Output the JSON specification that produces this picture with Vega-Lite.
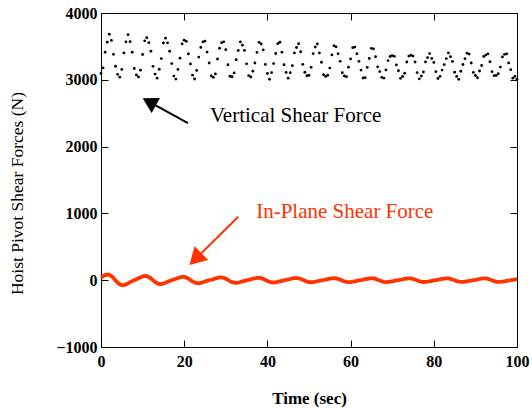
{
"$schema": "https://vega.github.io/schema/vega-lite/v6.json",
"width": 416, "height": 334,
"autosize": "none",
"padding": {"left": 101, "top": 13, "right": 15, "bottom": 62},
"background": "white",
"config": {
  "view": {"stroke": "black", "strokeWidth": 1},
  "axis": {"grid": false, "domainColor": "black", "tickColor": "black", "labelColor": "black", "titleColor": "black",
    "labelFont": "Liberation Serif", "labelFontWeight": "bold", "labelFontSize": 16,
    "titleFont": "Liberation Serif", "titleFontSize": 16, "tickSize": -7, "tickWidth": 1}
},
"datasets": {
"vert": [
{"t":0,"v":3095},{"t":0.5,"v":3179},{"t":1,"v":3412},{"t":1.5,"v":3563},{"t":2,"v":3682},{"t":2.5,"v":3589},{"t":3,"v":3381},{"t":3.5,"v":3203},{"t":4,"v":3081},{"t":4.5,"v":3039},
{"t":5,"v":3155},{"t":5.5,"v":3402},{"t":6,"v":3568},{"t":6.5,"v":3676},{"t":7,"v":3571},{"t":7.5,"v":3413},{"t":8,"v":3169},{"t":8.5,"v":3073},{"t":9,"v":3043},{"t":9.5,"v":3144},
{"t":10,"v":3379},{"t":10.5,"v":3583},{"t":11,"v":3629},{"t":11.5,"v":3556},{"t":12,"v":3427},{"t":12.5,"v":3201},{"t":13,"v":3085},{"t":13.5,"v":3024},{"t":14,"v":3158},{"t":14.5,"v":3318},
{"t":15,"v":3551},{"t":15.5,"v":3623},{"t":16,"v":3554},{"t":16.5,"v":3427},{"t":17,"v":3243},{"t":17.5,"v":3056},{"t":18,"v":3011},{"t":18.5,"v":3156},{"t":19,"v":3324},{"t":19.5,"v":3538},
{"t":20,"v":3593},{"t":20.5,"v":3576},{"t":21,"v":3388},{"t":21.5,"v":3238},{"t":22,"v":3069},{"t":22.5,"v":3012},{"t":23,"v":3141},{"t":23.5,"v":3340},{"t":24,"v":3485},{"t":24.5,"v":3568},
{"t":25,"v":3579},{"t":25.5,"v":3415},{"t":26,"v":3252},{"t":26.5,"v":3059},{"t":27,"v":3037},{"t":27.5,"v":3088},{"t":28,"v":3311},{"t":28.5,"v":3474},{"t":29,"v":3556},{"t":29.5,"v":3569},
{"t":30,"v":3451},{"t":30.5,"v":3225},{"t":31,"v":3055},{"t":31.5,"v":3046},{"t":32,"v":3103},{"t":32.5,"v":3300},{"t":33,"v":3439},{"t":33.5,"v":3567},{"t":34,"v":3519},{"t":34.5,"v":3440},
{"t":35,"v":3239},{"t":35.5,"v":3063},{"t":36,"v":3042},{"t":36.5,"v":3129},{"t":37,"v":3251},{"t":37.5,"v":3410},{"t":38,"v":3561},{"t":38.5,"v":3536},{"t":39,"v":3447},{"t":39.5,"v":3230},
{"t":40,"v":3096},{"t":40.5,"v":3008},{"t":41,"v":3108},{"t":41.5,"v":3243},{"t":42,"v":3394},{"t":42.5,"v":3542},{"t":43,"v":3562},{"t":43.5,"v":3413},{"t":44,"v":3225},{"t":44.5,"v":3111},
{"t":45,"v":3025},{"t":45.5,"v":3107},{"t":46,"v":3212},{"t":46.5,"v":3402},{"t":47,"v":3483},{"t":47.5,"v":3540},{"t":48,"v":3420},{"t":48.5,"v":3232},{"t":49,"v":3113},{"t":49.5,"v":3061},
{"t":50,"v":3067},{"t":50.5,"v":3187},{"t":51,"v":3393},{"t":51.5,"v":3491},{"t":52,"v":3537},{"t":52.5,"v":3403},{"t":53,"v":3263},{"t":53.5,"v":3076},{"t":54,"v":3050},{"t":54.5,"v":3068},
{"t":55,"v":3176},{"t":55.5,"v":3372},{"t":56,"v":3510},{"t":56.5,"v":3493},{"t":57,"v":3390},{"t":57.5,"v":3277},{"t":58,"v":3106},{"t":58.5,"v":3058},{"t":59,"v":3047},{"t":59.5,"v":3189},
{"t":60,"v":3312},{"t":60.5,"v":3481},{"t":61,"v":3490},{"t":61.5,"v":3390},{"t":62,"v":3277},{"t":62.5,"v":3146},{"t":63,"v":3027},{"t":63.5,"v":3032},{"t":64,"v":3187},{"t":64.5,"v":3320},
{"t":65,"v":3471},{"t":65.5,"v":3463},{"t":66,"v":3345},{"t":66.5,"v":3194},{"t":67,"v":3123},{"t":67.5,"v":3036},{"t":68,"v":3026},{"t":68.5,"v":3148},{"t":69,"v":3288},{"t":69.5,"v":3349},
{"t":70,"v":3363},{"t":70.5,"v":3351},{"t":71,"v":3223},{"t":71.5,"v":3135},{"t":72,"v":3022},{"t":72.5,"v":3050},{"t":73,"v":3098},{"t":73.5,"v":3267},{"t":74,"v":3355},{"t":74.5,"v":3368},
{"t":75,"v":3355},{"t":75.5,"v":3266},{"t":76,"v":3108},{"t":76.5,"v":3015},{"t":77,"v":3057},{"t":77.5,"v":3117},{"t":78,"v":3268},{"t":78.5,"v":3333},{"t":79,"v":3393},{"t":79.5,"v":3319},
{"t":80,"v":3260},{"t":80.5,"v":3122},{"t":81,"v":3020},{"t":81.5,"v":3052},{"t":82,"v":3146},{"t":82.5,"v":3228},{"t":83,"v":3318},{"t":83.5,"v":3403},{"t":84,"v":3345},{"t":84.5,"v":3274},
{"t":85,"v":3113},{"t":85.5,"v":3050},{"t":86,"v":3007},{"t":86.5,"v":3128},{"t":87,"v":3229},{"t":87.5,"v":3316},{"t":88,"v":3399},{"t":88.5,"v":3385},{"t":89,"v":3251},{"t":89.5,"v":3110},
{"t":90,"v":3064},{"t":90.5,"v":3031},{"t":91,"v":3132},{"t":91.5,"v":3214},{"t":92,"v":3349},{"t":92.5,"v":3370},{"t":93,"v":3389},{"t":93.5,"v":3270},{"t":94,"v":3122},{"t":94.5,"v":3063},
{"t":95,"v":3064},{"t":95.5,"v":3090},{"t":96,"v":3190},{"t":96.5,"v":3343},{"t":97,"v":3381},{"t":97.5,"v":3388},{"t":98,"v":3253},{"t":98.5,"v":3152},{"t":99,"v":3024},{"t":99.5,"v":3050},
{"t":100,"v":3010}
],
"inplane": [
{"t":0,"v":40},{"t":0.5,"v":60},{"t":1,"v":77},{"t":1.5,"v":85},{"t":2,"v":81},{"t":2.5,"v":63},{"t":3,"v":33},{"t":3.5,"v":-3},{"t":4,"v":-37},{"t":4.5,"v":-62},
{"t":5,"v":-75},{"t":5.5,"v":-74},{"t":6,"v":-63},{"t":6.5,"v":-47},{"t":7,"v":-29},{"t":7.5,"v":-14},{"t":8,"v":0},{"t":8.5,"v":14},{"t":9,"v":28},{"t":9.5,"v":43},
{"t":10,"v":56},{"t":10.5,"v":64},{"t":11,"v":62},{"t":11.5,"v":50},{"t":12,"v":28},{"t":12.5,"v":1},{"t":13,"v":-26},{"t":13.5,"v":-46},{"t":14,"v":-57},{"t":14.5,"v":-57},
{"t":15,"v":-49},{"t":15.5,"v":-37},{"t":16,"v":-24},{"t":16.5,"v":-12},{"t":17,"v":-1},{"t":17.5,"v":10},{"t":18,"v":21},{"t":18.5,"v":33},{"t":19,"v":43},{"t":19.5,"v":50},
{"t":20,"v":49},{"t":20.5,"v":40},{"t":21,"v":24},{"t":21.5,"v":3},{"t":22,"v":-19},{"t":22.5,"v":-35},{"t":23,"v":-45},{"t":23.5,"v":-46},{"t":24,"v":-41},{"t":24.5,"v":-31},
{"t":25,"v":-20},{"t":25.5,"v":-10},{"t":26,"v":-1},{"t":26.5,"v":7},{"t":27,"v":16},{"t":27.5,"v":26},{"t":28,"v":35},{"t":28.5,"v":41},{"t":29,"v":41},{"t":29.5,"v":35},
{"t":30,"v":21},{"t":30.5,"v":4},{"t":31,"v":-14},{"t":31.5,"v":-29},{"t":32,"v":-37},{"t":32.5,"v":-39},{"t":33,"v":-35},{"t":33.5,"v":-27},{"t":34,"v":-18},{"t":34.5,"v":-10},
{"t":35,"v":-2},{"t":35.5,"v":5},{"t":36,"v":13},{"t":36.5,"v":22},{"t":37,"v":29},{"t":37.5,"v":35},{"t":38,"v":36},{"t":38.5,"v":31},{"t":39,"v":20},{"t":39.5,"v":5},
{"t":40,"v":-11},{"t":40.5,"v":-24},{"t":41,"v":-32},{"t":41.5,"v":-34},{"t":42,"v":-31},{"t":42.5,"v":-25},{"t":43,"v":-17},{"t":43.5,"v":-9},{"t":44,"v":-2},{"t":44.5,"v":4},
{"t":45,"v":11},{"t":45.5,"v":18},{"t":46,"v":26},{"t":46.5,"v":31},{"t":47,"v":32},{"t":47.5,"v":28},{"t":48,"v":19},{"t":48.5,"v":6},{"t":49,"v":-8},{"t":49.5,"v":-21},
{"t":50,"v":-29},{"t":50.5,"v":-31},{"t":51,"v":-29},{"t":51.5,"v":-23},{"t":52,"v":-16},{"t":52.5,"v":-9},{"t":53,"v":-3},{"t":53.5,"v":3},{"t":54,"v":9},{"t":54.5,"v":16},
{"t":55,"v":23},{"t":55.5,"v":28},{"t":56,"v":30},{"t":56.5,"v":27},{"t":57,"v":19},{"t":57.5,"v":7},{"t":58,"v":-6},{"t":58.5,"v":-18},{"t":59,"v":-26},{"t":59.5,"v":-29},
{"t":60,"v":-28},{"t":60.5,"v":-22},{"t":61,"v":-16},{"t":61.5,"v":-9},{"t":62,"v":-3},{"t":62.5,"v":2},{"t":63,"v":8},{"t":63.5,"v":15},{"t":64,"v":21},{"t":64.5,"v":26},
{"t":65,"v":28},{"t":65.5,"v":26},{"t":66,"v":19},{"t":66.5,"v":8},{"t":67,"v":-5},{"t":67.5,"v":-16},{"t":68,"v":-25},{"t":68.5,"v":-28},{"t":69,"v":-27},{"t":69.5,"v":-22},
{"t":70,"v":-16},{"t":70.5,"v":-10},{"t":71,"v":-4},{"t":71.5,"v":2},{"t":72,"v":7},{"t":72.5,"v":14},{"t":73,"v":20},{"t":73.5,"v":25},{"t":74,"v":27},{"t":74.5,"v":26},
{"t":75,"v":19},{"t":75.5,"v":9},{"t":76,"v":-3},{"t":76.5,"v":-15},{"t":77,"v":-23},{"t":77.5,"v":-27},{"t":78,"v":-26},{"t":78.5,"v":-22},{"t":79,"v":-16},{"t":79.5,"v":-10},
{"t":80,"v":-4},{"t":80.5,"v":1},{"t":81,"v":7},{"t":81.5,"v":13},{"t":82,"v":19},{"t":82.5,"v":24},{"t":83,"v":27},{"t":83.5,"v":26},{"t":84,"v":20},{"t":84.5,"v":10},
{"t":85,"v":-2},{"t":85.5,"v":-14},{"t":86,"v":-22},{"t":86.5,"v":-26},{"t":87,"v":-26},{"t":87.5,"v":-22},{"t":88,"v":-16},{"t":88.5,"v":-10},{"t":89,"v":-5},{"t":89.5,"v":1},
{"t":90,"v":6},{"t":90.5,"v":12},{"t":91,"v":18},{"t":91.5,"v":23},{"t":92,"v":26},{"t":92.5,"v":26},{"t":93,"v":20},{"t":93.5,"v":11},{"t":94,"v":-1},{"t":94.5,"v":-13},
{"t":95,"v":-21},{"t":95.5,"v":-26},{"t":96,"v":-26},{"t":96.5,"v":-23},{"t":97,"v":-17},{"t":97.5,"v":-11},{"t":98,"v":-5},{"t":98.5,"v":0},{"t":99,"v":5},{"t":99.5,"v":11},
{"t":100,"v":17}
]
},
"layer": [
{
"layer": [
  {
    "data": {"name": "vert"},
    "mark": {"type": "point", "filled": true, "shape": "circle", "size": 8, "color": "black", "opacity": 1},
    "encoding": {
      "x": {"field": "t", "type": "quantitative", "scale": {"domain": [0, 100], "nice": false, "zero": false},
        "axis": {"values": [0, 20, 40, 60, 80, 100], "format": "d", "title": "Time (sec)", "titleFontWeight": "bold", "titleFontSize": 17, "labelPadding": 13, "titleY": 51, "titleBaseline": "middle", "labelFlush": false}},
      "y": {"field": "v", "type": "quantitative", "scale": {"domain": [-1000, 4000], "nice": false, "zero": false},
        "axis": {"values": [-1000, 0, 1000, 2000, 3000, 4000], "format": "d", "title": "Hoist Pivot Shear Forces (N)", "titleFontWeight": "normal", "titleFontSize": 17.5, "labelPadding": 11, "titleX": -84, "titleY": 180, "titleBaseline": "middle", "titleAlign": "center"}}
    }
  },
  {
    "data": {"name": "inplane"},
    "mark": {"type": "line", "color": "#ff3300", "strokeWidth": 3.8},
    "encoding": {
      "x": {"field": "t", "type": "quantitative"},
      "y": {"field": "v", "type": "quantitative"}
    }
  },
  {
    "data": {"values": [{"t": 20.9, "v": 2353, "t2": 11.6, "v2": 2669}]},
    "mark": {"type": "rule", "color": "black", "strokeWidth": 2},
    "encoding": {
      "x": {"field": "t", "type": "quantitative"},
      "y": {"field": "v", "type": "quantitative"},
      "x2": {"field": "t2"},
      "y2": {"field": "v2"}
    }
  },
  {
    "data": {"values": [{"t": 11.6, "v": 2669}]},
    "mark": {"type": "point", "shape": "triangle-up", "filled": true, "size": 300, "angle": 299, "color": "black", "opacity": 1},
    "encoding": {
      "x": {"field": "t", "type": "quantitative"},
      "y": {"field": "v", "type": "quantitative"}
    }
  },
  {
    "data": {"values": [{"t": 33.0, "v": 951, "t2": 22.7, "v2": 317}]},
    "mark": {"type": "rule", "color": "#ff3300", "strokeWidth": 2},
    "encoding": {
      "x": {"field": "t", "type": "quantitative"},
      "y": {"field": "v", "type": "quantitative"},
      "x2": {"field": "t2"},
      "y2": {"field": "v2"}
    }
  },
  {
    "data": {"values": [{"t": 22.7, "v": 317}]},
    "mark": {"type": "point", "shape": "triangle-up", "filled": true, "size": 380, "angle": 225, "color": "#ff3300", "opacity": 1},
    "encoding": {
      "x": {"field": "t", "type": "quantitative"},
      "y": {"field": "v", "type": "quantitative"}
    }
  },
  {
    "data": {"values": [{"t": 26.2, "v": 2458, "label": "Vertical Shear Force"}]},
    "mark": {"type": "text", "align": "left", "baseline": "middle", "font": "Liberation Serif", "fontSize": 21, "color": "black"},
    "encoding": {
      "x": {"field": "t", "type": "quantitative"},
      "y": {"field": "v", "type": "quantitative"},
      "text": {"field": "label"}
    }
  },
  {
    "data": {"values": [{"t": 37.3, "v": 1021, "label": "In-Plane Shear Force"}]},
    "mark": {"type": "text", "align": "left", "baseline": "middle", "font": "Liberation Serif", "fontSize": 21, "color": "#ff3300"},
    "encoding": {
      "x": {"field": "t", "type": "quantitative"},
      "y": {"field": "v", "type": "quantitative"},
      "text": {"field": "label"}
    }
  }
]
},
{
  "data": {"values": [{"t": 0, "v": 0}]},
  "mark": {"type": "point", "opacity": 0},
  "encoding": {
    "x": {"field": "t", "type": "quantitative", "scale": {"domain": [0, 100], "nice": false, "zero": false},
      "axis": {"orient": "top", "values": [0, 20, 40, 60, 80, 100], "labels": false, "title": null, "domain": false}},
    "y": {"field": "v", "type": "quantitative", "scale": {"domain": [-1000, 4000], "nice": false, "zero": false},
      "axis": {"orient": "right", "values": [-1000, 0, 1000, 2000, 3000, 4000], "labels": false, "title": null, "domain": false}}
  }
}
],
"resolve": {"axis": {"x": "independent", "y": "independent"}}
}
